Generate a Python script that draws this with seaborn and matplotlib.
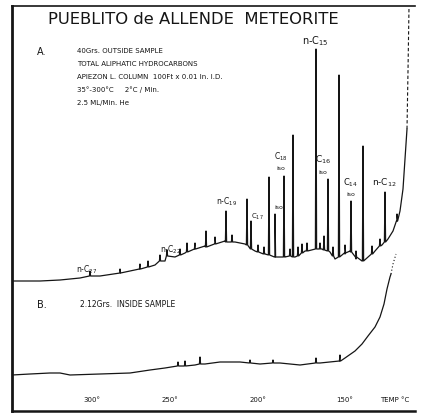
import numpy as np
import pandas as pd
import matplotlib
matplotlib.use("Agg")
import matplotlib.pyplot as plt
import seaborn as sns

# %%
# Dados (posição ao longo do registro, sinal)
base_a_x = [0, 28, 48, 68, 88, 108, 128, 143, 153, 163, 173, 183, 193, 203, 213, 223,
            233, 243, 253, 263, 273, 283, 293, 303, 310, 318, 323, 333, 338, 344, 350,
            356, 363, 370, 376, 381, 385, 388, 391, 393, 395]
base_a_y = [130, 130, 131, 133, 135, 138, 142, 146, 150, 154, 158, 162, 165, 168, 170, 169,
            167, 160, 157, 154, 154, 154, 160, 162, 162, 159, 152, 157, 160, 152, 150,
            154, 160, 166, 172, 180, 190, 200, 222, 252, 282]

# picos do traço A: posição, pé, topo
pico_a_x = [155, 175, 194, 214, 235, 239, 257, 263, 272, 281, 290, 304, 312, 316, 327,
            339, 351, 373,
            78, 108, 128, 136, 148, 168, 183, 203, 220, 246, 252, 278, 286, 295, 308,
            321, 333, 344, 360, 368, 385]
pico_a_pe = [155, 159, 164, 169, 166, 162, 156, 154, 154, 154, 158, 162, 161, 160, 154,
             159, 150, 169,
             135, 138, 142, 144, 150, 156, 162, 167, 169, 159, 157, 155, 155, 160, 162,
             155, 158, 154, 157, 165, 190]
pico_a_topo = [161, 168, 180, 200, 212, 190, 234, 197, 235, 276, 167, 362, 175, 232, 336,
               210, 265, 219,
               140, 142, 147, 150, 156, 162, 168, 174, 176, 166, 164, 162, 164, 168, 168,
               164, 166, 160, 165, 172, 197]

# saída do traço A pelo topo (tracejado)
fim_a_x = [395, 396, 397]
fim_a_y = [282, 340, 404]

base_b_x = [0, 18, 38, 48, 58, 88, 118, 138, 153, 168, 183, 193, 208, 228, 248, 268,
            288, 308, 328, 333, 343, 350, 356, 363, 368, 372, 375, 378, 379]
base_b_y = [36, 37, 38, 38, 36, 37, 38, 41, 43, 45, 46, 47, 49, 49, 47, 48,
            46, 48, 50, 53, 60, 67, 75, 84, 94, 107, 122, 134, 137]
pico_b_x = [166, 173, 188, 238, 261, 304, 328]
pico_b_pe = [45, 45, 47, 48, 48, 48, 50]
pico_b_topo = [49, 50, 54, 51, 51, 53, 56]
fim_b_x = [379, 381, 384]
fim_b_y = [137, 147, 157]

temp_pos = [80, 158, 246, 333, 383]
temp_labels = ["300°", "250°", "200°", "150°", "TEMP °C"]

cabecalho = ["40Grs. OUTSIDE SAMPLE",
             "TOTAL ALIPHATIC HYDROCARBONS",
             "APIEZON L. COLUMN  100Ft x 0.01 In. I.D.",
             "35°-300°C     2°C / Min.",
             "2.5 ML/Min. He"]

# rótulos dos picos: texto, x, y
rotulos = [(r"n-C$_{15}$", 303, 371, 7),
           (r"C$_{18}$", 269, 255, 5.5), ("iso", 269, 243, 4.5),
           ("iso", 267, 204, 4.5), (r"C$_{17}$", 245, 195, 5),
           (r"n-C$_{19}$", 215, 210, 5.5),
           (r"C$_{16}$", 311, 252, 6.5), ("iso", 311, 239, 4.5),
           (r"C$_{14}$", 339, 229, 6), ("iso", 339, 217, 4.5),
           (r"n-C$_{12}$", 372, 229, 6.5),
           (r"n-C$_{22}$", 159, 162, 5.5),
           (r"n-C$_{27}$", 75, 142, 5.5)]


# %%
def monta_traco(bx, by, px, ppe, ptopo):
    # junta linha de base e picos estreitos
    xs = list(bx)
    ys = list(by)
    for x, pe, topo in zip(px, ppe, ptopo):
        xs += [x - 0.6, x, x + 0.6]
        ys += [pe, topo, pe]
    df = pd.DataFrame({"pos": xs, "sinal": ys}).sort_values("pos")
    return df


df_a = monta_traco(base_a_x, base_a_y, pico_a_x, pico_a_pe, pico_a_topo)
df_b = monta_traco(base_b_x, base_b_y, pico_b_x, pico_b_pe, pico_b_topo)

sns.set_style("white")
plt.rcParams['font.family'] = ['DejaVu Sans']

fig = plt.figure(figsize=(4.27, 4.14), dpi=100)
ax = fig.add_axes([12/427, 2/414, 403/427, 405/414])

cor = "#151515"
sns.lineplot(data=df_a, x="pos", y="sinal", estimator=None, sort=False,
             color=cor, lw=0.9, ax=ax)
sns.lineplot(data=df_b, x="pos", y="sinal", estimator=None, sort=False,
             color=cor, lw=0.9, ax=ax)
ax.plot(fim_a_x, fim_a_y, color=cor, lw=0.8, ls=(0, (3, 2)))
ax.plot(fim_b_x, fim_b_y, color=cor, lw=0.8, ls=(0, (1, 2)))

ax.set_xlim(0, 403)
ax.set_ylim(0, 405)
ax.set_xlabel("")
ax.set_ylabel("")
ax.set_yticks([])
ax.set_xticks(temp_pos, labels=temp_labels)
ax.tick_params(axis="x", direction="in", length=0, pad=-11, labelsize=5, colors=cor)

for lado, lw in [("left", 2.0), ("top", 1.2), ("bottom", 1.8)]:
    ax.spines[lado].set_linewidth(lw)
    ax.spines[lado].set_color(cor)
ax.spines["right"].set_visible(False)

ax.text(181, 392, "PUEBLITO de ALLENDE  METEORITE", ha="center", va="center",
        fontsize=11.8, color=cor)
ax.text(25, 360, "A.", ha="left", va="center", fontsize=7, color=cor)
for i, linha in enumerate(cabecalho):
    ax.text(65, 361 - 13*i, linha, ha="left", va="center", fontsize=5, color=cor)

ax.text(25, 107, "B.", ha="left", va="center", fontsize=7, color=cor)
ax.text(68, 107, "2.12Grs.  INSIDE SAMPLE", ha="left", va="center", fontsize=5.5, color=cor)

for txt, x, y, fs in rotulos:
    ax.text(x, y, txt, ha="center", va="center", fontsize=fs, color=cor)

fig.savefig("out.png", dpi=100)
